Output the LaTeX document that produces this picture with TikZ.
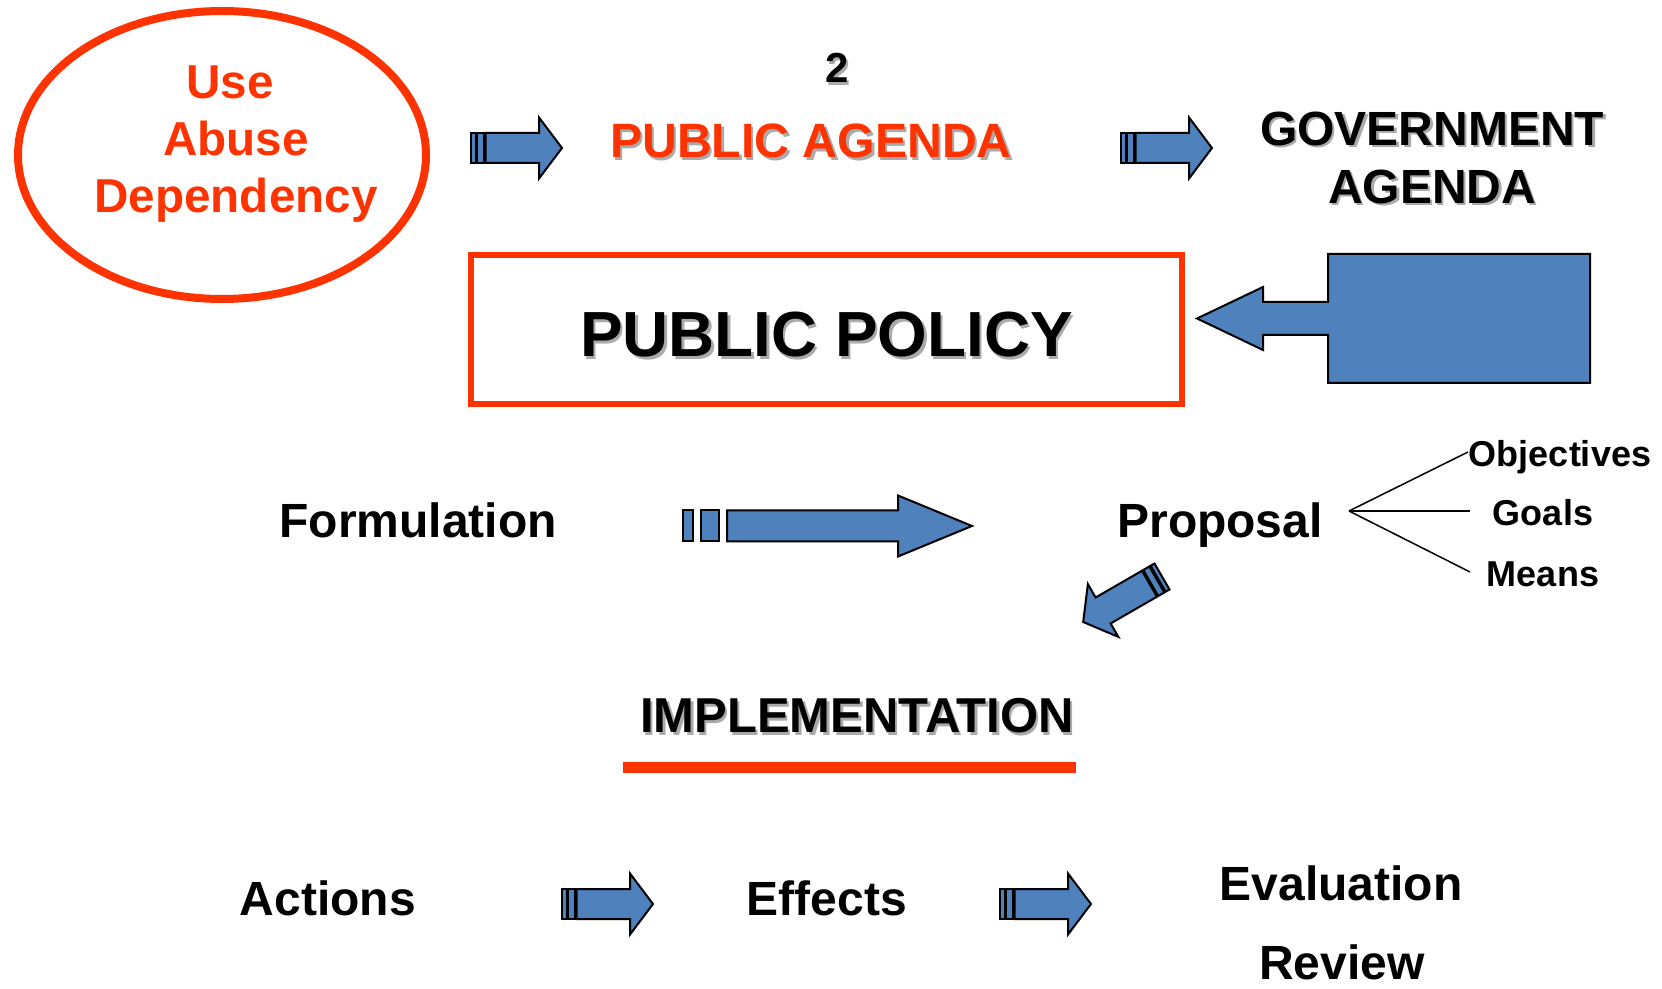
\documentclass[tikz,border=0pt]{standalone}
\usepackage{fontspec}
\setmainfont{Liberation Sans}
\usetikzlibrary{shapes.geometric}
\definecolor{agendared}{RGB}{255,51,0}
\definecolor{arrowblue}{RGB}{79,129,189}
\definecolor{shadowgray}{RGB}{170,170,170}
\newcommand\shtext[1]{\rlap{\smash{\kern1.2pt\raisebox{-1.2pt}{\color{shadowgray}#1}}}#1}
\tikzset{
  lbl/.style={font=\bfseries\fontsize{24}{29}\selectfont, inner sep=0pt, anchor=base},
  smalllbl/.style={font=\bfseries\fontsize{18}{22}\selectfont, inner sep=0pt, anchor=base},
  blockfill/.style={draw=black, fill=arrowblue, line width=1pt},
  fanline/.style={draw=black, line width=0.75pt},
  pics/striparrow/.style={code={
    \draw[blockfill] (0,-15) rectangle (4.5,15);
    \draw[blockfill] (6,-15) rectangle (13,15);
    \draw[blockfill] (14.5,-15) -- (68,-15) -- (68,-30.5) -- (91,0)
      -- (68,30.5) -- (68,15) -- (14.5,15) -- cycle;
  }}
}
\begin{document}
\begin{tikzpicture}[x=0.5pt, y=-0.5pt]
  \useasboundingbox (0,0) rectangle (1662,989);
  % top row
  \node[draw=agendared, line width=4pt, ellipse, minimum width=204pt,
    minimum height=144pt, inner sep=0pt] (usage) at (222,155) {};
  \node[lbl, anchor=center, align=center, text=agendared,
    font=\bfseries\fontsize{23.8}{28.5}\selectfont] (usetext) at (236,144.5)
    {Use\kern6pt\\Abuse\\Dependency};
  \node[lbl, font=\bfseries\fontsize{21}{25}\selectfont] (two) at (837,83) {\shtext{2}};
  \node[lbl, font=\bfseries\fontsize{24.1}{29}\selectfont, text=agendared] (pubag)
    at (811,158) {\shtext{PUBLIC AGENDA}};
  \node[lbl, anchor=center, align=center] (govag) at (1432,158)
    {\shtext{GOVERNMENT}\\\shtext{AGENDA}};
  \pic at (471,148) {striparrow};
  \pic at (1121,148) {striparrow};
  % policy box and callout
  \node[draw=agendared, line width=3pt, minimum width=355.5pt, minimum height=74.5pt,
    inner sep=0pt, text height=27.5pt, text depth=0pt,
    font=\bfseries\fontsize{31.9}{36}\selectfont] (policy) at (826.5,329.5)
    {\shtext{PUBLIC POLICY}};
  \draw[blockfill] (1328,254) -- (1590,254) -- (1590,383) -- (1328,383)
    -- (1328,335) -- (1263,335) -- (1263,350) -- (1197,318.5) -- (1263,287)
    -- (1263,302) -- (1328,302) -- cycle;
  % formulation
  \node[lbl] (form) at (418,538) {Formulation};
  \node[lbl] (prop) at (1220,538) {Proposal};
  \draw[blockfill] (683,510.5) rectangle (693,541.5);
  \draw[blockfill] (701,510.5) rectangle (719,541.5);
  \draw[blockfill] (727,510.5) -- (898,510.5) -- (898,495.5) -- (972,526)
    -- (898,556.5) -- (898,541.5) -- (727,541.5) -- cycle;
  \node[smalllbl] (obj) at (1560,467) {Objectives};
  \node[smalllbl] (goals) at (1543,526) {Goals};
  \node[smalllbl] (means) at (1543,587) {Means};
  \coordinate (fan) at (1349,511);
  \coordinate (objend) at (1468,452);
  \coordinate (goalsend) at (1470,511);
  \coordinate (meansend) at (1470,572);
  \draw[fanline] (fan) -- (objend);
  \draw[fanline] (fan) -- (goalsend);
  \draw[fanline] (fan) -- (meansend);
  \pic[rotate=210] at (1162,576.5) {striparrow};
  % implementation
  \node[lbl, font=\bfseries\fontsize{24.5}{29}\selectfont] (impl) at (857,733)
    {\shtext{IMPLEMENTATION}};
  \coordinate (ulstart) at (623,768);
  \coordinate (ulend) at (1076,768);
  \draw[agendared, line width=5.5pt] (ulstart) -- (ulend);
  % bottom row
  \node[lbl] (act) at (328,915) {Actions};
  \node[lbl] (eff) at (827,915) {Effects};
  \node[lbl] (eval) at (1341,900) {Evaluation};
  \node[lbl] (rev) at (1342,979) {Review};
  \pic at (562,904) {striparrow};
  \pic at (1000,904) {striparrow};
\end{tikzpicture}
\end{document}
